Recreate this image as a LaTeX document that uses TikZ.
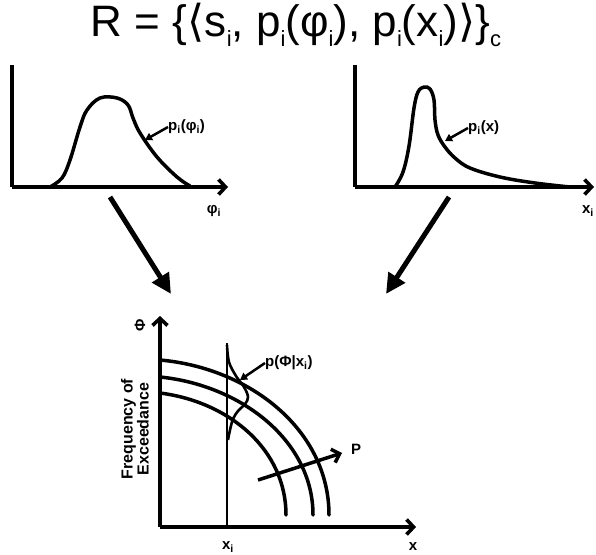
\documentclass[tikz,border=0pt]{standalone}
\usepackage{fontspec}
\setmainfont{Liberation Sans}
\newfontfamily\brfont{DejaVu Sans}
\usetikzlibrary{arrows.meta}
\tikzset{
  axis/.style={line width=3.6pt,-{Straight Barb[length=7pt,width=15pt]}},
  curve/.style={line width=3.5pt,line join=round,line cap=round},
  bigarrow/.style={line width=5pt,-{Triangle[length=20pt,width=19pt]}},
  lblarrow/.style={line width=2.5pt,-{Triangle[length=7pt,width=8pt]}},
  lbl/.style={font=\bfseries\fontsize{15}{15}\selectfont,inner sep=0pt},
}
\newcommand{\lowsub}[1]{\raisebox{-0.22em}{\fontsize{22}{22}\selectfont #1}}
\begin{document}
\begin{tikzpicture}[x=1pt,y=-1pt]
\useasboundingbox (0,0) rectangle (596,554);
% title
\node[inner sep=0pt,font=\fontsize{44}{44}\selectfont] (title) at (296,25)
  {R = \{{\brfont ⟨}s\lowsub{i}, p\lowsub{i}(φ\lowsub{i}), p\lowsub{i}(x\lowsub{i}){\brfont ⟩}\}\lowsub{c}};
% left plot
\coordinate (lo) at (12,187);
\draw[line width=3.6pt] (12,65) -- (lo);
\draw[axis] (lo) -- (228,187);
\draw[curve] plot[smooth,tension=0.6] coordinates {(50,187) (62,178) (70,160) (80,127) (87,110) (100,98) (117,98) (128,105) (133,118) (140,133) (157,157) (177,177) (190,186)};
\node[lbl,anchor=west] (lp) at (168,127) {p\textsubscript{i}(φ\textsubscript{i})};
\coordinate (lpt) at (145,140);
\draw[lblarrow] (lp.west) -- (lpt);
\node[lbl] (phi) at (214,211) {φ\textsubscript{i}};
% right plot
\coordinate (ro) at (355,187);
\draw[line width=3.6pt] (355,65) -- (ro);
\draw[axis] (ro) -- (594,187);
\draw[curve] plot[smooth,tension=0.6] coordinates {(395,187) (403,172) (409,146) (414,108) (418,92) (424,87) (430,89) (434,100) (435,120) (438,135) (445,147) (455,158) (470,168) (500,177) (535,183) (570,187)};
\node[lbl,anchor=west] (rp) at (468,128) {p\textsubscript{i}(x)};
\coordinate (rpt) at (445,141);
\draw[lblarrow] (rp.west) -- (rpt);
\node[lbl] (xi) at (588,211) {x\textsubscript{i}};
% big arrows
\coordinate (la1) at (110,197);
\coordinate (la2) at (171,294);
\coordinate (ra1) at (449,197);
\coordinate (ra2) at (386,294);
\draw[bigarrow] (la1) -- (la2);
\draw[bigarrow] (ra1) -- (ra2);
% bottom plot
\coordinate (bo) at (160,527);
\draw[axis] (bo) -- (160,316);
\draw[axis] (bo) -- (416,527);
\node[lbl,rotate=90] (Phi) at (140,325) {Φ};
\node[lbl,rotate=90,align=center,font=\bfseries\fontsize{16}{16}\selectfont] (foe) at (135,429) {Frequency of\\Exceedance};
\node[lbl] (xl) at (413,547) {x};
\node[lbl] (xil) at (228,547) {x\textsubscript{i}};
\draw[line width=2.6pt] (227,343) -- (227,527);
\draw[curve] (160,360) .. controls (250,368) and (329,430) .. (329,515);
\draw[curve] (160,377) .. controls (240,385) and (313,440) .. (313,515);
\draw[curve] (160,393) .. controls (230,402) and (286,450) .. (286,515);
\draw[line width=2.6pt,line join=round] plot[smooth,tension=0.6] coordinates {(227,345) (229,362) (236,376) (244,387) (248,397) (245,404) (238,411) (233,419) (230,430) (228,440)};
\node[lbl,anchor=west] (pphi) at (265,363) {p(Φ|x\textsubscript{i})};
\coordinate (ppt) at (240,380);
\draw[lblarrow] (pphi.west) -- (ppt);
\coordinate (pa1) at (258,480);
\coordinate (pa2) at (342,453);
\draw[line width=3.5pt,-{Straight Barb[length=7pt,width=14pt]}] (pa1) -- (pa2);
\node[lbl] (P) at (356,449) {P};
\end{tikzpicture}
\end{document}
